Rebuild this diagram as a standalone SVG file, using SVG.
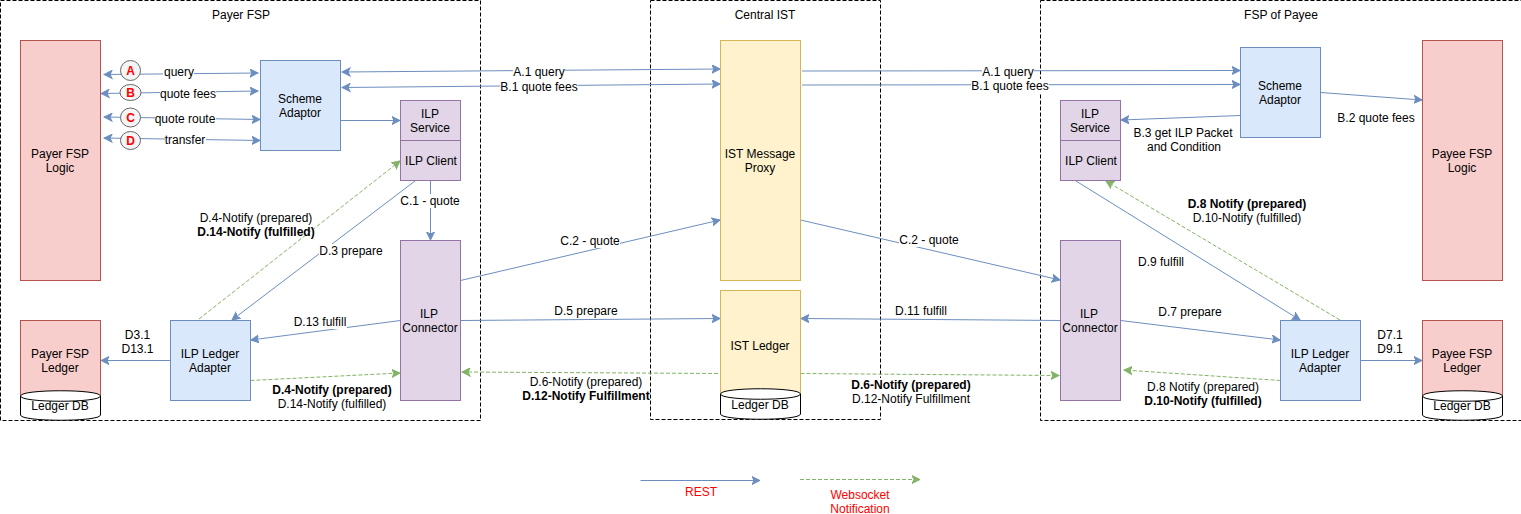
<svg xmlns="http://www.w3.org/2000/svg" width="1521" height="514" viewBox="0 0 1521 514">
<style>
text{font-family:"Liberation Sans",Arial,sans-serif;font-size:12px;fill:#000;text-anchor:middle}
.b{font-weight:bold}
.r{fill:#f00}
.zone{fill:none;stroke:#000;stroke-dasharray:4 2}
.red{fill:#f8cecc;stroke:#b85450}
.blue{fill:#dae8fc;stroke:#6c8ebf}
.pur{fill:#e1d5e7;stroke:#9673a6}
.yel{fill:#fff2cc;stroke:#d6b656}
.db{fill:#fff;stroke:#000}
.rest{fill:none;stroke:#6c8ebf;marker-end:url(#ab)}
.restd{fill:none;stroke:#6c8ebf;marker-end:url(#ab);marker-start:url(#abs)}
.ws{fill:none;stroke:#82b366;stroke-dasharray:4 2;marker-end:url(#ag)}
.wss{fill:none;stroke:#82b366;stroke-dasharray:4 2;marker-start:url(#ags)}
.bg{fill:#fff}
.c{fill:#f5f5f5;stroke:#666}
.cl{fill:#f00;font-weight:bold;font-size:12px}
</style>
<defs>
<marker id="ab" markerUnits="userSpaceOnUse" markerWidth="10" markerHeight="10" refX="8" refY="4.5" orient="auto"><path d="M0,0.5 L8,4.5 L0,8.5 L2,4.5Z" fill="#6c8ebf" stroke="#6c8ebf"/></marker>
<marker id="abs" markerUnits="userSpaceOnUse" markerWidth="10" markerHeight="10" refX="1" refY="4.5" orient="auto"><path d="M9,0.5 L1,4.5 L9,8.5 L7,4.5Z" fill="#6c8ebf" stroke="#6c8ebf"/></marker>
<marker id="ag" markerUnits="userSpaceOnUse" markerWidth="10" markerHeight="10" refX="8" refY="4.5" orient="auto"><path d="M0,0.5 L8,4.5 L0,8.5 L2,4.5Z" fill="#82b366" stroke="#82b366"/></marker>
<marker id="ags" markerUnits="userSpaceOnUse" markerWidth="10" markerHeight="10" refX="1" refY="4.5" orient="auto"><path d="M9,0.5 L1,4.5 L9,8.5 L7,4.5Z" fill="#82b366" stroke="#82b366"/></marker>
</defs>
<rect width="1521" height="514" fill="#fff"/>
<g id="zones">
<rect class="zone" x="0.500" y="0.500" width="480" height="420"/>
<rect class="zone" x="650.500" y="0.500" width="230" height="419"/>
<rect class="zone" x="1040.500" y="0.500" width="490" height="420"/>
<text x="241" y="19">Payer FSP</text>
<text x="765" y="19">Central IST</text>
<text x="1281" y="19">FSP of Payee</text>
</g>
<g id="connectors">
<path class="restd" d="M104,74.500 L258,73"/>
<path class="restd" d="M101,93.500 L258,91"/>
<path class="restd" d="M104,117 L260,119.500"/>
<path class="restd" d="M104,138 L260,140.500"/>
<path class="restd" d="M342,72 L720,69"/>
<path class="restd" d="M342,87.500 L720,84"/>
<path class="rest" d="M802,71 L1240,70.500"/>
<path class="rest" d="M802,85 L1240,84.500"/>
<path class="rest" d="M340.500,120.500 L400,120.500"/>
<path class="rest" d="M1240,115.500 L1121,120"/>
<path class="rest" d="M1320.500,92.500 L1422,100"/>
<path class="rest" d="M430.500,180.500 L430.500,240"/>
<path class="rest" d="M415,181 L232,320"/>
<path class="ws" d="M199,319 L400,161"/>
<path class="rest" d="M400.500,320.500 L251,340"/>
<path class="ws" d="M250.500,380.500 L400,373"/>
<path class="rest" d="M460.500,280.500 L720,220"/>
<path class="rest" d="M460.500,320.500 L720,318.500"/>
<path class="wss" d="M462,372 L720.500,373.500"/>
<path class="ws" d="M800.500,373.500 L1059,375.500"/>
<path class="rest" d="M800.500,220 L1060,280"/>
<path class="rest" d="M1060.500,320.500 L801,318.500"/>
<path class="rest" d="M1120.500,320.500 L1280,340"/>
<path class="rest" d="M1076,181 L1300,320"/>
<path class="ws" d="M1340,320 L1106,181"/>
<path class="ws" d="M1280.500,380.500 L1124,370"/>
<path class="rest" d="M1360.500,360.500 L1422,360.500"/>
<path class="rest" d="M170.500,360.500 L101,360.500"/>
<path class="rest" d="M640.500,480.500 L760,480.500"/>
<path class="ws" d="M800,479.500 L920,479.500"/>
</g>
<g id="labels">
<rect class="bg" x="163" y="65" width="31" height="14"/><text x="179" y="76">query</text>
<rect class="bg" x="160" y="87" width="56" height="14"/><text x="188" y="98">quote fees</text>
<rect class="bg" x="155" y="112" width="61" height="14"/><text x="185" y="123">quote route</text>
<rect class="bg" x="165" y="133" width="41" height="14"/><text x="185" y="144">transfer</text>
<rect class="bg" x="513" y="65" width="52" height="14"/><text x="539" y="76">A.1 query</text>
<rect class="bg" x="500" y="80" width="78" height="14"/><text x="539" y="91">B.1 quote fees</text>
<rect class="bg" x="982" y="65" width="52" height="14"/><text x="1008" y="76">A.1 query</text>
<rect class="bg" x="971" y="79" width="78" height="14"/><text x="1010" y="90">B.1 quote fees</text>
<rect class="bg" x="400" y="194" width="60" height="14"/><text x="430" y="205">C.1 - quote</text>
<text x="256" y="222">D.4-Notify (prepared)</text>
<text class="b" x="256" y="236">D.14-Notify (fulfilled)</text>
<rect class="bg" x="319" y="244" width="64" height="14"/><text x="351" y="255">D.3 prepare</text>
<rect class="bg" x="294" y="315" width="53" height="14"/><text x="320" y="326">D.13 fulfill</text>
<text x="137.500" y="339">D3.1</text>
<text x="137.500" y="353">D13.1</text>
<text class="b" x="332" y="394">D.4-Notify (prepared)</text>
<text x="332" y="408">D.14-Notify (fulfilled)</text>
<rect class="bg" x="560" y="234" width="60" height="14"/><text x="590" y="245">C.2 - quote</text>
<text x="586" y="315">D.5 prepare</text>
<text x="586" y="386">D.6-Notify (prepared)</text>
<text class="b" x="586" y="400">D.12-Notify Fulfillment</text>
<text x="921" y="315">D.11 fulfill</text>
<rect class="bg" x="851" y="378" width="120" height="28"/>
<text class="b" x="911" y="389">D.6-Notify (prepared)</text>
<text x="911" y="403">D.12-Notify Fulfillment</text>
<rect class="bg" x="899" y="233" width="60" height="14"/><text x="929" y="244">C.2 - quote</text>
<text x="1183" y="137">B.3 get ILP Packet</text>
<text x="1184" y="151">and Condition</text>
<text x="1376" y="122">B.2 quote fees</text>
<text class="b" x="1247" y="208">D.8 Notify (prepared)</text>
<text x="1247" y="222">D.10-Notify (fulfilled)</text>
<text x="1161" y="266">D.9 fulfill</text>
<text x="1190" y="316">D.7 prepare</text>
<text x="1390" y="339">D7.1</text>
<text x="1390" y="353">D9.1</text>
<text x="1203" y="391">D.8 Notify (prepared)</text>
<text class="b" x="1203" y="405">D.10-Notify (fulfilled)</text>
<text class="r" x="701" y="496">REST</text>
<text class="r" x="860" y="499">Websocket</text>
<text class="r" x="860" y="513">Notification</text>
</g>
<g id="badge-a"><ellipse class="c" cx="130.500" cy="70.500" rx="10" ry="10"/><text class="cl" x="130.500" y="75">A</text></g>
<g id="badge-b"><ellipse class="c" cx="130.500" cy="92.500" rx="10.500" ry="8"/><text class="cl" x="130.500" y="97">B</text></g>
<g id="badge-c"><ellipse class="c" cx="130.500" cy="117.500" rx="10" ry="9.500"/><text class="cl" x="130.500" y="122">C</text></g>
<g id="badge-d"><ellipse class="c" cx="130.500" cy="140.500" rx="10" ry="9"/><text class="cl" x="130.500" y="145">D</text></g>
<g id="payer-logic"><rect class="red" x="20.500" y="40.500" width="80" height="240"/><text x="60" y="158">Payer FSP</text><text x="60" y="172">Logic</text></g>
<g id="payer-ledger"><rect class="red" x="20.500" y="320.500" width="80" height="85"/><text x="60" y="358">Payer FSP</text><text x="60" y="372">Ledger</text></g>
<g id="payer-db"><path class="db" d="M20.500,396 C20.500,389 100.500,389 100.500,396 L100.500,415 C100.500,422 20.500,422 20.500,415Z"/><path class="db" style="fill:none" d="M20.500,396 C20.500,403 100.500,403 100.500,396"/><text x="60" y="410">Ledger DB</text></g>
<g id="payer-scheme"><rect class="blue" x="260.500" y="60.500" width="80" height="90"/><text x="300" y="103">Scheme</text><text x="300" y="117">Adaptor</text></g>
<g id="payer-ilp-service"><rect class="pur" x="400.500" y="100.500" width="60" height="40"/><text x="430" y="118">ILP</text><text x="430" y="132">Service</text></g>
<g id="payer-ilp-client"><rect class="pur" x="400.500" y="140.500" width="60" height="40"/><text x="431" y="165">ILP Client</text></g>
<g id="payer-connector"><rect class="pur" x="400.500" y="240.500" width="60" height="160"/><text x="429" y="318">ILP</text><text x="430" y="332">Connector</text></g>
<g id="payer-adapter"><rect class="blue" x="170.500" y="320.500" width="80" height="80"/><text x="210" y="358">ILP Ledger</text><text x="210" y="372">Adapter</text></g>
<g id="ist-proxy"><rect class="yel" x="720.500" y="40.500" width="80" height="240"/><text x="760" y="158">IST Message</text><text x="760" y="172">Proxy</text></g>
<g id="ist-ledger"><rect class="yel" x="720.500" y="290.500" width="80" height="110"/><text x="760" y="350">IST Ledger</text></g>
<g id="ist-db"><path class="db" d="M720.500,394 C720.500,387 800.500,387 800.500,394 L800.500,414 C800.500,421 720.500,421 720.500,414Z"/><path class="db" style="fill:none" d="M720.500,394 C720.500,401 800.500,401 800.500,394"/><text x="760" y="409">Ledger DB</text></g>
<g id="payee-scheme"><rect class="blue" x="1240.500" y="47.500" width="80" height="90"/><text x="1280" y="90">Scheme</text><text x="1280" y="104">Adaptor</text></g>
<g id="payee-ilp-service"><rect class="pur" x="1060.500" y="100.500" width="60" height="40"/><text x="1090" y="118">ILP</text><text x="1090" y="132">Service</text></g>
<g id="payee-ilp-client"><rect class="pur" x="1060.500" y="140.500" width="60" height="40"/><text x="1091" y="165">ILP Client</text></g>
<g id="payee-connector"><rect class="pur" x="1060.500" y="240.500" width="60" height="160"/><text x="1089" y="318">ILP</text><text x="1090" y="332">Connector</text></g>
<g id="payee-adapter"><rect class="blue" x="1280.500" y="320.500" width="80" height="80"/><text x="1320" y="358">ILP Ledger</text><text x="1320" y="372">Adapter</text></g>
<g id="payee-logic"><rect class="red" x="1422.500" y="40.500" width="80" height="240"/><text x="1462" y="158">Payee FSP</text><text x="1462" y="172">Logic</text></g>
<g id="payee-ledger"><rect class="red" x="1422.500" y="320.500" width="80" height="85"/><text x="1462" y="358">Payee FSP</text><text x="1462" y="372">Ledger</text></g>
<g id="payee-db"><path class="db" d="M1422.500,396 C1422.500,389 1502.500,389 1502.500,396 L1502.500,415 C1502.500,422 1422.500,422 1422.500,415Z"/><path class="db" style="fill:none" d="M1422.500,396 C1422.500,403 1502.500,403 1502.500,396"/><text x="1462" y="410">Ledger DB</text></g>
</svg>
